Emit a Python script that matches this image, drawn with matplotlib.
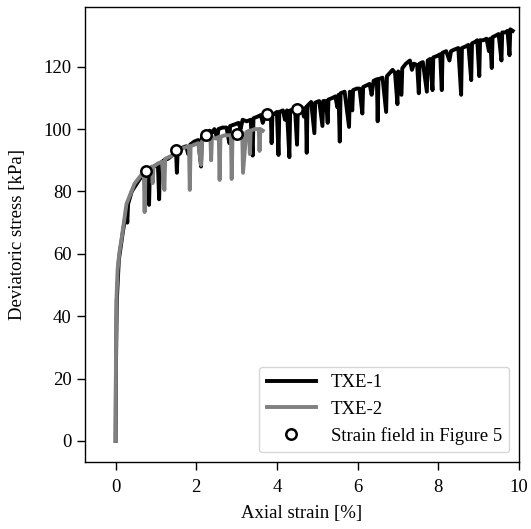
import numpy as np
import matplotlib
matplotlib.use('Agg')
import matplotlib.pyplot as plt

plt.rcParams['font.family'] = ['Liberation Serif', 'DejaVu Serif']
plt.rcParams['font.size'] = 13.5

# TXE-1 (peaks and stick-slip drops)
strain_1 = [0.0, 0.01, 0.03, 0.08, 0.18, 0.27, 0.29, 0.31, 0.40, 0.50, 0.60, 0.70, 0.80,
            0.83, 0.85, 0.95, 1.05, 1.08, 1.10, 1.20, 1.30, 1.40, 1.50, 1.52, 1.54, 1.65,
            1.75, 1.80, 1.85, 1.95, 2.05, 2.12, 2.14, 2.25, 2.33, 2.40, 2.45, 2.52, 2.55,
            2.65, 2.75, 2.82, 2.84, 2.95, 3.05, 3.10, 3.15, 3.25, 3.35, 3.40, 3.42, 3.52,
            3.60, 3.65, 3.70, 3.85, 3.87, 3.89, 4.00, 4.04, 4.06, 4.15, 4.20, 4.25, 4.31,
            4.33, 4.45, 4.50, 4.52, 4.62, 4.67, 4.72, 4.74, 4.76, 4.85, 4.93, 4.95, 5.05,
            5.13, 5.15, 5.22, 5.26, 5.28, 5.38, 5.45, 5.50, 5.53, 5.56, 5.58, 5.68, 5.79,
            5.81, 5.87, 5.89, 5.98, 6.05, 6.12, 6.14, 6.22, 6.30, 6.35, 6.40, 6.48, 6.50,
            6.52, 6.62, 6.71, 6.73, 6.80, 6.87, 6.93, 6.99, 7.01, 7.09, 7.11, 7.20, 7.30,
            7.35, 7.40, 7.48, 7.52, 7.54, 7.62, 7.72, 7.74, 7.80, 7.86, 7.88, 7.98, 8.05,
            8.09, 8.11, 8.20, 8.28, 8.32, 8.40, 8.50, 8.57, 8.59, 8.68, 8.75, 8.82, 8.84,
            8.92, 8.97, 9.02, 9.04, 9.12, 9.20, 9.26, 9.29, 9.33, 9.35, 9.43, 9.50, 9.57,
            9.59, 9.66, 9.72, 9.77, 9.79, 9.85]
stress_1 = [0.0, 25.0, 45.0, 58.0, 67.0, 74.0, 70.0, 76.0, 80.0, 82.0, 84.0, 85.5, 86.5,
            75.7, 87.0, 88.0, 88.5, 77.5, 89.0, 90.0, 90.5, 91.5, 92.5, 86.0, 93.0, 94.0,
            94.5, 92.0, 95.0, 96.0, 96.5, 88.0, 97.5, 98.5, 99.5, 99.0, 100.0, 97.0, 100.0,
            100.5, 100.5, 95.5, 101.0, 101.5, 102.0, 100.0, 103.0, 102.5, 103.0, 91.5, 103.5, 104.0,
            104.5, 102.0, 104.0, 104.5, 95.5, 104.5, 105.5, 91.7, 105.5, 106.0, 103.0, 106.0, 91.0,
            106.0, 106.5, 95.0, 106.5, 107.0, 104.0, 107.0, 92.4, 107.5, 108.7, 98.7, 108.5, 109.0,
            101.0, 109.0, 109.0, 102.0, 109.5, 110.0, 110.5, 107.0, 111.0, 96.0, 111.5, 112.0, 100.7,
            112.0, 106.0, 112.5, 113.0, 113.0, 105.0, 113.5, 114.0, 114.5, 111.0, 115.5, 116.0, 102.5,
            116.0, 116.5, 105.5, 117.0, 118.0, 119.0, 118.0, 108.0, 118.5, 111.0, 119.5, 121.0, 122.0,
            119.0, 121.0, 120.5, 111.5, 121.0, 121.5, 112.0, 122.0, 122.5, 112.5, 123.0, 123.5, 124.0,
            112.5, 124.5, 125.0, 122.0, 125.0, 125.5, 126.0, 111.0, 126.0, 126.5, 127.0, 115.7, 127.5,
            128.0, 128.5, 117.0, 128.5, 128.5, 129.0, 125.0, 129.0, 119.6, 129.5, 130.0, 130.5, 122.0,
            131.0, 131.0, 131.5, 123.7, 132.0, 131.5]

# TXE-2
strain_2 = [0.0, 0.005, 0.01, 0.02, 0.05, 0.10, 0.15, 0.27, 0.47, 0.65, 0.70, 0.72, 0.74,
            0.85, 0.90, 0.92, 0.94, 1.05, 1.15, 1.21, 1.23, 1.32, 1.40, 1.50, 1.60, 1.70,
            1.82, 1.84, 1.86, 1.95, 2.05, 2.12, 2.14, 2.25, 2.35, 2.37, 2.39, 2.48, 2.56,
            2.58, 2.60, 2.70, 2.78, 2.86, 2.88, 2.90, 3.00, 3.08, 3.14, 3.16, 3.24, 3.31,
            3.33, 3.35, 3.45, 3.55, 3.57, 3.59, 3.65]
stress_2 = [0.0, 15.0, 30.0, 45.0, 55.0, 61.0, 65.0, 76.0, 82.5, 85.5, 86.0, 73.4, 86.5,
            87.5, 88.0, 82.7, 88.0, 89.0, 89.5, 80.5, 90.5, 91.0, 91.5, 93.0, 93.5, 94.0,
            94.5, 80.5, 94.5, 95.0, 95.5, 88.5, 96.0, 97.5, 97.5, 90.0, 97.5, 97.0, 97.5,
            83.7, 97.5, 98.0, 98.0, 98.0, 84.0, 98.0, 98.5, 98.0, 99.0, 86.0, 99.0, 99.5,
            92.0, 99.5, 100.0, 100.0, 93.0, 100.0, 99.5]

# strain field points shown in Figure 5
field_strain = [0.75, 1.5, 2.25, 3.0, 3.75, 4.5]
field_stress = [86.5, 93.3, 98.0, 98.3, 104.7, 106.5]

fig = plt.figure(figsize=(5.31, 5.29), dpi=100)
ax = fig.add_axes([0.160, 0.127, 0.817, 0.860])

ax.plot(strain_1, stress_1, color='black', lw=2.8, label='TXE-1')
ax.plot(strain_2, stress_2, color='#808080', lw=2.8, label='TXE-2')
ax.plot(field_strain, field_stress, 'o', color='white', markeredgecolor='black',
        markeredgewidth=1.8, markersize=7.5, linestyle='none', label='Strain field in Figure 5')

ax.set_xlim(-0.76, 10)
ax.set_ylim(-6.7, 139.2)
ax.set_xticks([0, 2, 4, 6, 8, 10])
ax.set_yticks([0, 20, 40, 60, 80, 100, 120])
ax.tick_params(axis='both', length=5.5, width=1.0)
ax.tick_params(axis='x', pad=7)
ax.tick_params(axis='y', pad=4)
for s in ax.spines.values():
    s.set_linewidth(1.0)
ax.set_xlabel('Axial strain [%]', labelpad=6)
ax.set_ylabel('Deviatoric stress [kPa]', labelpad=13)
ax.legend(loc='lower right', handlelength=2.6)

plt.savefig('out.png', dpi=100)
